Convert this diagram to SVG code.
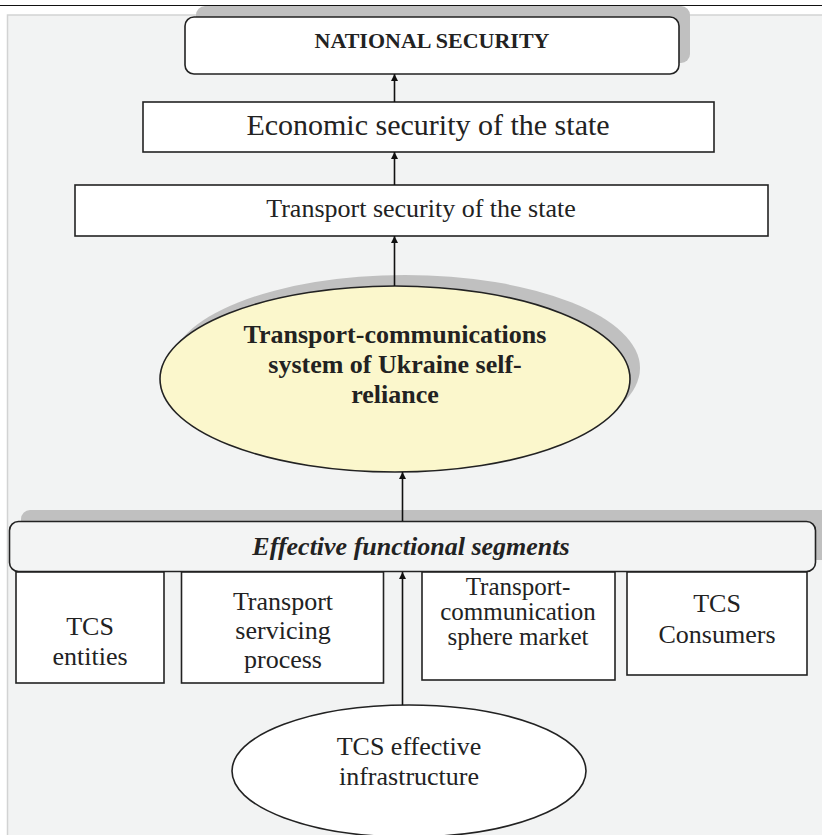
<svg xmlns="http://www.w3.org/2000/svg" width="822" height="835" viewBox="0 0 822 835" font-family="'Liberation Serif', 'Times New Roman', Times, 'DejaVu Serif', serif">
  <style>
    text { font-family: "Liberation Serif", "Times New Roman", Times, "DejaVu Serif", serif; fill: #222; text-anchor: middle; }
    .t25 { font-size: 25px; }
    .t26 { font-size: 26px; }
    .t30 { font-size: 30px; }
    .b { font-weight: bold; }
    .bi { font-weight: bold; font-style: italic; }
    .box { fill: #ffffff; stroke: #222; stroke-width: 1.6; }
    .shadow { fill: #c0c0c0; stroke: none; }
    .edge { stroke: #111; stroke-width: 1.6; fill: none; marker-end: url(#arrow); }
  </style>
  <defs>
    <marker id="arrow" viewBox="0 0 10 10" refX="10" refY="5" markerWidth="10" markerHeight="7" markerUnits="userSpaceOnUse" orient="auto">
      <path d="M0,0 L10,5 L0,10 Z" fill="#111"/>
    </marker>
  </defs>

  <!-- page rule and panel -->
  <rect width="822" height="835" fill="#ffffff"/>
  <line x1="0" y1="5.5" x2="822" y2="5.5" stroke="#111" stroke-width="1.2"/>
  <rect x="7.5" y="15" width="830" height="840" fill="#f2f3f3" stroke="#d2d3d3" stroke-width="1.5"/>

  <!-- national security -->
  <g id="national-security">
    <rect class="shadow" x="196" y="6" width="494" height="57" rx="9"/>
    <rect class="box" x="185" y="17" width="494" height="57" rx="9"/>
    <text class="b" x="432" y="48" font-size="22">NATIONAL SECURITY</text>
  </g>

  <!-- economic security -->
  <g id="economic-security">
    <rect class="box" x="143" y="102" width="571" height="50" stroke-width="2"/>
    <text class="t30" x="428" y="135">Economic security of the state</text>
  </g>

  <!-- transport security -->
  <g id="transport-security">
    <rect class="box" x="75" y="185" width="693" height="51" stroke-width="2"/>
    <text class="t26" x="421" y="217">Transport security of the state</text>
  </g>

  <!-- self-reliance ellipse -->
  <g id="tcs-self-reliance">
    <ellipse class="shadow" cx="405" cy="368" rx="235" ry="93"/>
    <ellipse cx="395" cy="379" rx="235" ry="93" fill="#fbf7cc" stroke="#222" stroke-width="1.6"/>
    <text class="t26 b" x="395" y="343">Transport-communications</text>
    <text class="t26 b" x="395" y="373">system of Ukraine self-</text>
    <text class="t26 b" x="395" y="403">reliance</text>
  </g>

  <!-- functional segments bar -->
  <g id="functional-segments">
    <rect class="shadow" x="21" y="510" width="820" height="50" rx="9"/>
    <rect x="9.5" y="521.5" width="806" height="50" rx="9" fill="#f3f4f4" stroke="#222" stroke-width="1.6"/>
    <text class="t26 bi" x="411" y="555">Effective functional segments</text>
  </g>

  <!-- segment boxes -->
  <g id="tcs-entities">
    <rect class="box" x="16" y="572" width="148" height="111"/>
    <text class="t26" x="90" y="635">TCS</text>
    <text class="t26" x="90" y="665">entities</text>
  </g>
  <g id="transport-servicing">
    <rect class="box" x="181.5" y="572" width="202" height="111"/>
    <text class="t26" x="283" y="610">Transport</text>
    <text class="t26" x="283" y="639">servicing</text>
    <text class="t26" x="283" y="668">process</text>
  </g>
  <g id="tcs-market">
    <rect class="box" x="422" y="572" width="193" height="108"/>
    <text class="t25" x="518" y="595">Transport-</text>
    <text class="t25" x="518" y="620">communication</text>
    <text class="t25" x="518" y="645">sphere market</text>
  </g>
  <g id="tcs-consumers">
    <rect class="box" x="627" y="572" width="180" height="103"/>
    <text class="t26" x="717" y="612">TCS</text>
    <text class="t26" x="717" y="643">Consumers</text>
  </g>

  <!-- infrastructure ellipse -->
  <g id="tcs-infrastructure">
    <ellipse cx="409" cy="771" rx="177" ry="66" fill="#ffffff" stroke="#222" stroke-width="1.6"/>
    <text class="t26" x="409" y="755">TCS effective</text>
    <text class="t26" x="409" y="785">infrastructure</text>
  </g>

  <!-- connectors -->
  <g id="connectors">
    <line class="edge" x1="394.5" y1="102" x2="394.5" y2="74"/>
    <line class="edge" x1="394.5" y1="185" x2="394.5" y2="152"/>
    <line class="edge" x1="394.5" y1="286" x2="394.5" y2="236"/>
    <line class="edge" x1="402.5" y1="521" x2="402.5" y2="472"/>
    <line class="edge" x1="402.5" y1="705" x2="402.5" y2="572"/>
  </g>
</svg>
